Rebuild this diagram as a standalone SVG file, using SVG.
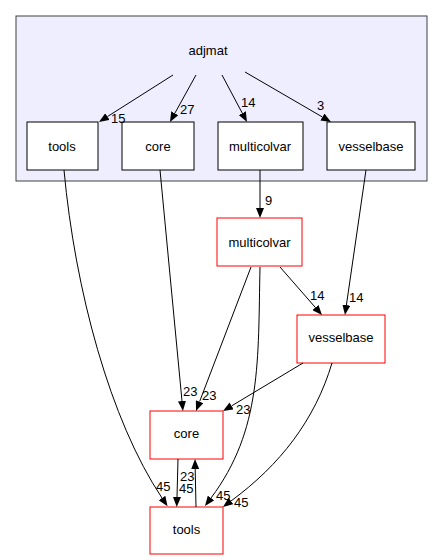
<svg xmlns="http://www.w3.org/2000/svg" width="443" height="560" viewBox="0 0 443 560">
<style>
text{font-family:"Liberation Sans",Arial,sans-serif;font-size:13px;fill:#000}
.n{text-anchor:middle}
.in{fill:#fff;stroke:#000;stroke-width:1}
.red{fill:#fff;stroke:#ff0000;stroke-width:1}
.e{fill:none;stroke:#000;stroke-width:1;marker-end:url(#a)}
</style>
<defs>
<marker id="a" viewBox="0 0 10 8" refX="0" refY="4" markerWidth="10" markerHeight="8" markerUnits="userSpaceOnUse" orient="auto">
<path d="M0,0 L10,4 L0,8 z" fill="#000"/>
</marker>
</defs>
<rect width="443" height="560" fill="#fff"/>
<g id="cluster_adjmat">
<rect x="16" y="16" width="411" height="165" fill="#eeeeff" stroke="#404040" stroke-width="1"/>
<text class="n" x="208" y="55">adjmat</text>
</g>
<g id="inner_tools"><rect class="in" x="27" y="122" width="71" height="48"/><text class="n" x="62" y="151">tools</text></g>
<g id="inner_core"><rect class="in" x="122" y="122" width="72" height="48"/><text class="n" x="158" y="151">core</text></g>
<g id="inner_multicolvar"><rect class="in" x="218" y="122" width="85" height="48"/><text class="n" x="260" y="151">multicolvar</text></g>
<g id="inner_vesselbase"><rect class="in" x="327" y="122" width="88" height="48"/><text class="n" x="371" y="151">vesselbase</text></g>
<g id="multicolvar"><rect class="red" x="217" y="218" width="85" height="48"/><text class="n" x="259.5" y="247">multicolvar</text></g>
<g id="vesselbase"><rect class="red" x="297" y="315" width="88" height="48"/><text class="n" x="341" y="342">vesselbase</text></g>
<g id="core"><rect class="red" x="150" y="411" width="73" height="48"/><text class="n" x="186.5" y="438">core</text></g>
<g id="tools"><rect class="red" x="150" y="507" width="73" height="47"/><text class="n" x="186.5" y="534">tools</text></g>
<g id="edges">
<path class="e" d="M173,75 L107.4,116.6"/>
<text x="111" y="123">15</text>
<path class="e" d="M196,75 L174.8,113.3"/>
<text x="180" y="114">27</text>
<path class="e" d="M222,75 L242.3,113.2"/>
<text x="241" y="107">14</text>
<path class="e" d="M245,72 L322.4,117"/>
<text x="317" y="110">3</text>
<path class="e" d="M260,170 L260,208"/>
<text x="265" y="205">9</text>
<path class="e" d="M280,267 L315.4,307.5"/>
<text x="310" y="300">14</text>
<path class="e" d="M366,170 L346.4,305.1"/>
<text x="349" y="302">14</text>
<path class="e" d="M160,170 L182,401"/>
<text x="183" y="396">23</text>
<path class="e" d="M251,267 L199.6,401.6"/>
<text x="202" y="400">23</text>
<path class="e" d="M303,363 L231.6,405.9"/>
<text x="236" y="414">23</text>
<path class="e" d="M260,267 C258,360 262,430 211,498"/>
<text x="216" y="500">45</text>
<path class="e" d="M332,363 C315,420 280,465 231,501"/>
<text x="234" y="507">45</text>
<path class="e" d="M64,170 C75,290 110,420 162,498"/>
<text x="156" y="491">45</text>
<path class="e" d="M178,459 L177,497"/>
<text x="179" y="493">45</text>
<path class="e" d="M196,507 L195.2,469"/>
<text x="180" y="481">23</text>
</g>
</svg>
